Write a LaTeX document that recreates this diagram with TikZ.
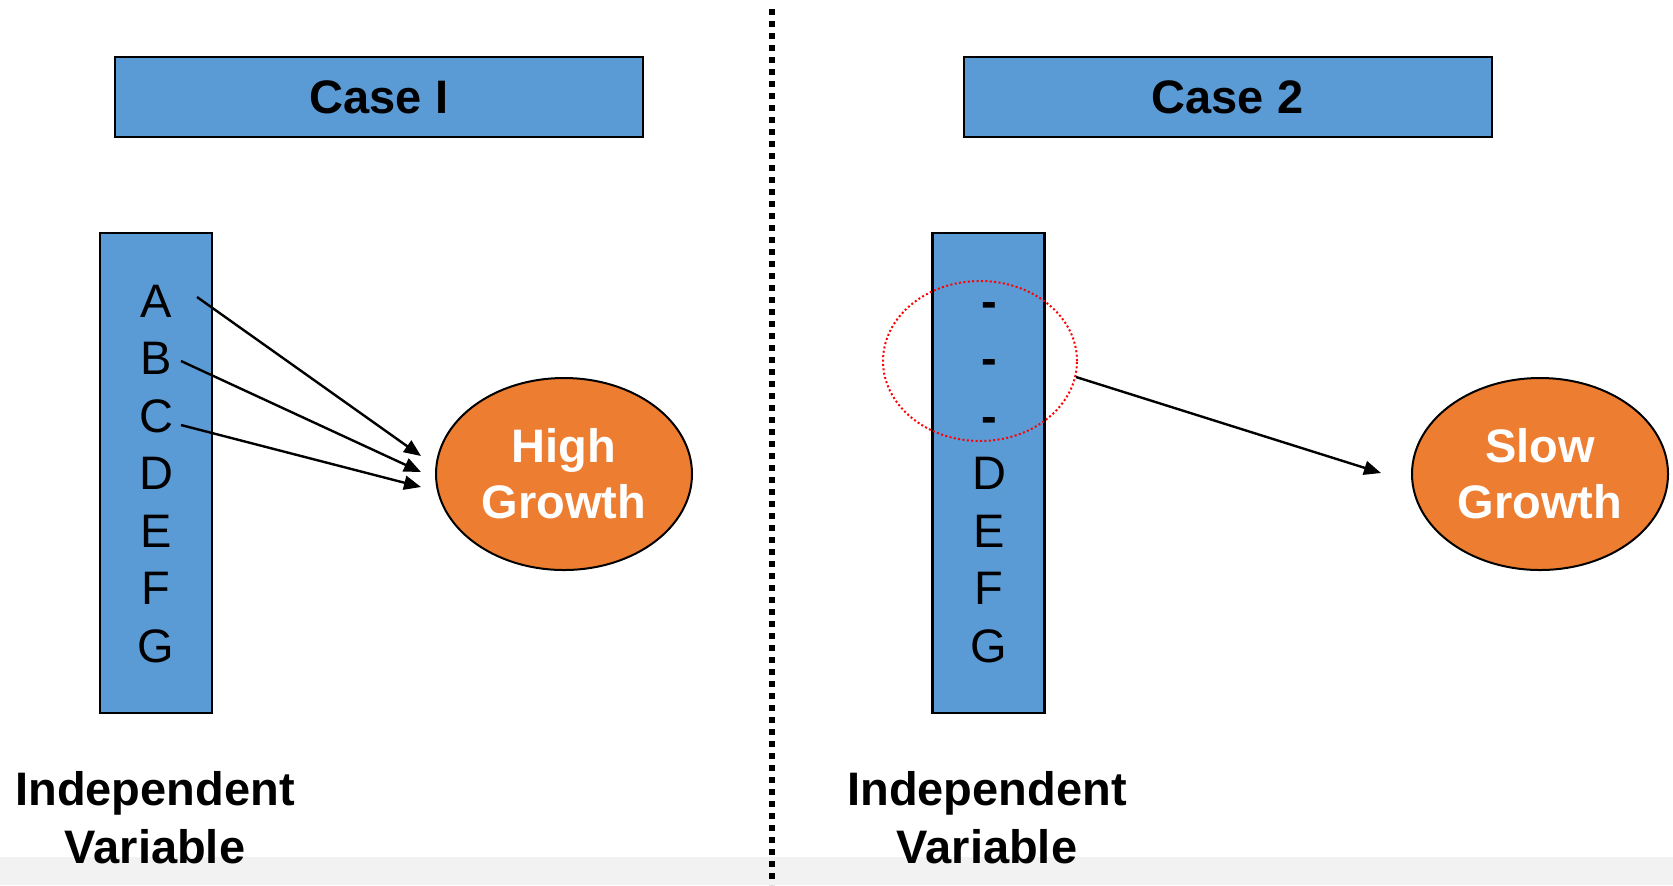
\documentclass[tikz,border=0pt]{standalone}
\usepackage{fontspec}
\setmainfont{Liberation Sans}
\usetikzlibrary{arrows.meta,shapes.geometric}
\definecolor{boxblue}{HTML}{5B9BD5}
\definecolor{ovalorange}{HTML}{ED7D31}
\definecolor{bandgrey}{HTML}{F2F2F2}
\begin{document}
\begin{tikzpicture}[x=0.5pt,y=-0.5pt,
  font=\fontsize{23.5}{28}\selectfont,
  casebox/.style={draw=black,line width=1pt,fill=boxblue,minimum width=264pt,minimum height=40pt,inner sep=0pt,font=\fontsize{23.5}{28}\selectfont\bfseries},
  varcol/.style={draw=black,line width=1.2pt,fill=boxblue,minimum width=56pt,minimum height=240pt,inner sep=0pt},
  letter/.style={anchor=base,inner sep=0pt},
  growth/.style={ellipse,draw=black,line width=1pt,fill=ovalorange,minimum width=128pt,minimum height=96pt,inner sep=0pt,align=center,text=white,font=\fontsize{23.5}{28}\selectfont\bfseries},
  ivlabel/.style={align=center,font=\fontsize{23.5}{29}\selectfont\bfseries,inner sep=0pt},
  link/.style={line width=1.2pt,-{Triangle[length=8.5pt,width=7pt]}},
  focusring/.style={ellipse,draw=red,line width=1pt,dash pattern=on 1pt off 1.2pt,inner sep=0pt},
  divider/.style={line width=3pt,dash pattern=on 3pt off 3pt}]
\fill[bandgrey] (0,857) rectangle (1673,885);
\useasboundingbox (0,0) rectangle (1673,885);
% divider
\coordinate (dtop) at (772,9);
\coordinate (dbot) at (772,885);
\draw[divider] (dtop) -- (dbot);
% titles
\node[casebox] (case1) at (379,97) {Case I};
\node[casebox] (case2) at (1227.5,97) {Case 2};
% columns
\node[varcol] (colL) at (156,473) {};
\node[varcol] (colR) at (988.5,473) {};
% letters
\foreach \t [count=\i from 0] in {A,B,C,D,E,F,G}
  \node[letter] (l\t) at (156,317+57.5*\i) {\t};
\foreach \i in {0,1,2}
  \node[letter] (r\i) at (989,317+57.5*\i) {\bfseries -};
\foreach \t [count=\i from 3] in {D,E,F,G}
  \node[letter] (r\i) at (989,317+57.5*\i) {\t};
% growth ovals
\node[growth] (hg) at (564,474) {High\\Growth};
\node[growth] (sg) at (1540,474) {Slow\\Growth};
% highlight ring
\node[focusring,minimum width=97pt,minimum height=80pt] (ring) at (980,361) {};
% arrows
\coordinate (sA) at (197,297);
\coordinate (tA) at (421,456);
\coordinate (sB) at (181,361);
\coordinate (tB) at (421,472);
\coordinate (sC) at (181,425);
\coordinate (tC) at (421,487);
\coordinate (sR) at (1076,377);
\coordinate (tR) at (1381,473);
\draw[link] (sA) -- (tA);
\draw[link] (sB) -- (tB);
\draw[link] (sC) -- (tC);
\draw[link] (sR) -- (tR);
% bottom labels
\node[ivlabel] (ivL) at (155,818) {Independent\\Variable};
\node[ivlabel] (ivR) at (987,818) {Independent\\Variable};
\end{tikzpicture}
\end{document}
